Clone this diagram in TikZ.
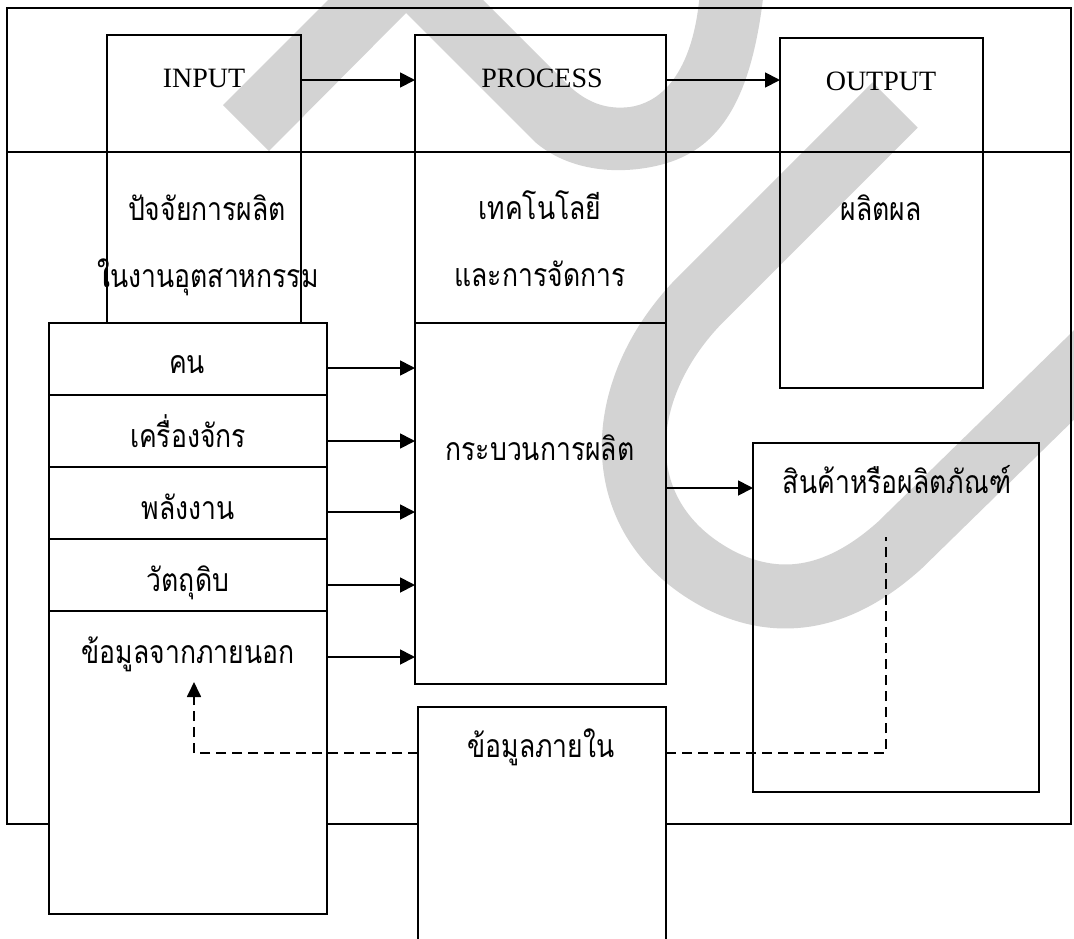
\documentclass[tikz,border=0pt]{standalone}
\usepackage{fontspec}
\setmainfont{Liberation Serif}
\newfontfamily\thai[Script=Thai,FakeStretch=0.83]{Loma}
\usetikzlibrary{arrows.meta}
\definecolor{wm}{RGB}{211,211,211}
\tikzset{
  box/.style={draw, line width=1.8pt, inner sep=0pt, outer sep=0pt},
  wbox/.style={box, fill=white},
  ln/.style={line width=1.8pt},
  arr/.style={line width=1.8pt, -{Triangle[length=15pt,width=15pt]}},
  dsh/.style={line width=1.8pt, dash pattern=on 10pt off 6pt},
  wmk/.style={line width=64pt, draw=wm, line cap=butt, line join=round},
  wmf/.style={fill=wm, draw=none},
  lat/.style={font=\fontsize{28}{34}\selectfont, inner sep=0pt, anchor=base},
  th/.style={font=\thai\fontsize{32}{38}\selectfont, inner sep=0pt, anchor=base},
}
\begin{document}
\begin{tikzpicture}[x=1pt,y=-1pt]
\useasboundingbox (0,0) rectangle (1074,938);
% watermark
\fill[wmf] (223,105) -- (338,-10) -- (473,-10) -- (565,82)
  .. controls (585,102) and (605,110) .. (630,107)
  .. controls (675,100) and (696,50) .. (700,-10) -- (764,-10)
  .. controls (752,100) and (720,150) .. (660,165)
  .. controls (620,175) and (570,172) .. (535,142) -- (406,13) -- (269,151) -- cycle;
\draw[wmk] (895,105) -- (700,300) .. controls (612,390) and (605,520) .. (720,580) .. controls (790,615) and (850,590) .. (900,545) -- (1120,330);
% frame
\node[box, minimum width=1064, minimum height=816] (frame) at (539,416) {};
\draw[ln] (frame.west |- 0,152) -- (frame.east |- 0,152);
% white boxes
\node[wbox, minimum width=278, minimum height=72] (f1) at (188,359) {};
\node[wbox, minimum width=278, minimum height=72] (f2) at (188,431) {};
\node[wbox, minimum width=278, minimum height=72] (f3) at (188,503) {};
\node[wbox, minimum width=278, minimum height=72] (f4) at (188,575) {};
\node[wbox, minimum width=278, minimum height=303] (f5) at (188,762.5) {};
\node[wbox, minimum width=248, minimum height=243] (intl) at (542,828.5) {};
% open boxes
\node[box, minimum width=194, minimum height=288] (input) at (204,179) {};
\node[box, minimum width=251, minimum height=288] (proc) at (540.5,179) {};
\node[box, minimum width=251, minimum height=361] (procl) at (540.5,503.5) {};
\node[box, minimum width=203, minimum height=350] (out) at (881.5,213) {};
\node[box, minimum width=286, minimum height=349] (prod) at (896,617.5) {};
% texts
\node[lat] (tin) at (204,87) {INPUT};
\node[lat] (tproc) at (542,87) {PROCESS};
\node[lat] (tout) at (881,90) {OUTPUT};
\node[th] (t1) at (207,220) {ปัจจัยการผลิต};
\node[th] (t2) at (208,287) {ในงานอุตสาหกรรม};
\node[th] (t3) at (540,219) {เทคโนโลยี};
\node[th] (t4) at (540,286) {และการจัดการ};
\node[th] (t5) at (881,220) {ผลิตผล};
\node[th] (t6) at (187,373) {คน};
\node[th] (t7) at (188,447) {เครื่องจักร};
\node[th] (t8) at (188,519) {พลังงาน};
\node[th] (t9) at (188,591) {วัตถุดิบ};
\node[th] (t10) at (188,663) {ข้อมูลจากภายนอก};
\node[th] (t11) at (540,460) {กระบวนการผลิต};
\node[th] (t12) at (897,493) {สินค้าหรือผลิตภัณฑ์};
\node[th] (t13) at (541,757) {ข้อมูลภายใน};
% connectors
\draw[arr] (input.east |- 0,80) -- (proc.west |- 0,80);
\draw[arr] (proc.east |- 0,80) -- (out.west |- 0,80);
\draw[arr] (f1.east |- 0,368) -- (procl.west |- 0,368);
\draw[arr] (f2.east |- 0,441) -- (procl.west |- 0,441);
\draw[arr] (f3.east |- 0,512) -- (procl.west |- 0,512);
\draw[arr] (f4.east |- 0,585) -- (procl.west |- 0,585);
\draw[arr] (f5.east |- 0,657) -- (procl.west |- 0,657);
\draw[arr] (procl.east |- 0,488) -- (prod.west |- 0,488);
\coordinate (dtip) at (194,682);
\coordinate (dend) at (886,537);
\draw[dsh, -{Triangle[length=15pt,width=14pt]}] (intl.west |- 0,753) -| (dtip);
\draw[dsh] (intl.east |- 0,753) -| (dend);
\end{tikzpicture}
\end{document}
